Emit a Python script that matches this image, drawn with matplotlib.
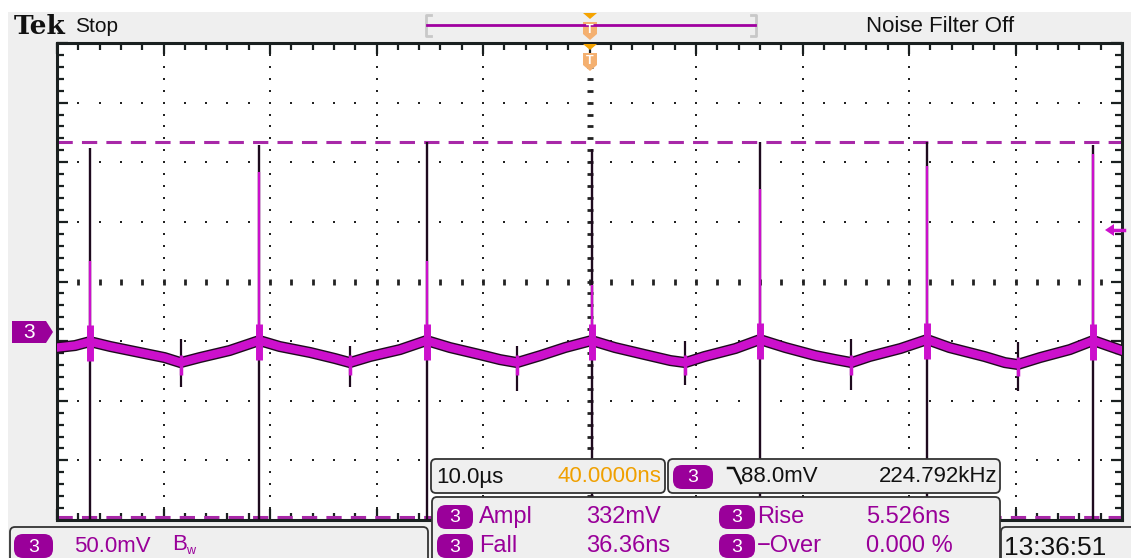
import numpy as np
import matplotlib.pyplot as plt
from matplotlib.patches import FancyBboxPatch, Polygon, Rectangle

plt.rcParams['font.family'] = ['Liberation Sans', 'DejaVu Sans']

# ---- waveform readings (time in us, voltage in mV) ----
base_t = [-50.0, -48.3, -46.9, -45.0, -42.2, -39.9, -38.4, -36.6, -33.8, -31.0,
          -29.1, -26.2, -23.9, -22.5, -20.6, -17.8, -15.3, -13.1, -10.3, -8.4,
          -6.8, -4.6, -2.3, 0.2, 2.4, 5.2, 7.6, 9.0, 10.8, 13.7,
          16.0, 18.4, 21.2, 23.1, 24.6, 26.3, 29.2, 31.7, 33.8, 37.1,
          39.0, 40.2, 42.3, 45.1, 47.3, 48.9, 50.0]
base_mv = [-12.6, -10.9, -7.6, -11.7, -16.8, -21.0, -25.2, -21.0, -15.1, -6.7,
           -11.7, -16.8, -21.8, -25.2, -20.1, -14.3, -6.7, -12.6, -18.5, -22.7,
           -25.2, -19.3, -12.6, -6.7, -12.6, -18.5, -23.5, -25.2, -20.1, -13.4,
           -5.9, -12.6, -19.3, -22.7, -25.2, -20.1, -13.4, -5.9, -12.6, -20.1,
           -25.2, -26.8, -21.0, -14.3, -6.7, -11.7, -15.1]

spike_t = [-46.9, -31.0, -15.3, 0.2, 16.0, 31.7, 47.3]
spike_top = [155, 157, 160, 154, 160, 160, 157]
spike_bottom = [-200, -200, -200, -200, -200, -200, -200]
spike_mag_top = [60, 135, 60, 40, 120, 140, 150]

small_t = [-38.4, -22.5, -6.8, 9.0, 24.6, 40.2]
small_top = [-5, -11, -11, -7, -5, -8]
small_bottom = [-46, -46, -49, -44, -48, -49]

cursor_high = 160
cursor_low = -155

# screen settings
t_div = 10.0      # us/div
v_div = 50.0      # mV/div
v_center = 42.8   # mV at screen centre

MAG = '#cc10cc'
DARK = '#1e0a1e'
BADGE = '#9a009a'
TXT_MAG = '#990099'

W, H = 1131, 558
fig = plt.figure(figsize=(W / 100, H / 100), dpi=100)
fig.patch.set_facecolor('white')

bg = fig.add_axes([0, 0, 1, 1], zorder=0)
bg.set_xlim(0, W); bg.set_ylim(H, 0); bg.axis('off')
bg.add_patch(Rectangle((8, 12), W, H, color='#efefef', lw=0))

# ---- graticule ----
ax = fig.add_axes([57 / W, 1 - 520 / H, (1122 - 57) / W, (520 - 43) / H], zorder=1)
ax.set_facecolor('white')
ax.set_xlim(-5 * t_div, 5 * t_div)
ax.set_ylim(v_center - 4 * v_div, v_center + 4 * v_div)
for s in ax.spines.values():
    s.set_linewidth(2.2)
    s.set_color('#1a2020')
xmaj = np.arange(-5, 6) * t_div
xmin = np.arange(-25, 26) * t_div / 5
ymaj = v_center + np.arange(-4, 5) * v_div
ymin = v_center + np.arange(-20, 21) * v_div / 5
ax.set_xticks(xmaj); ax.set_xticks(xmin, minor=True)
ax.set_yticks(ymaj); ax.set_yticks(ymin, minor=True)
ax.tick_params(which='both', direction='in', top=True, right=True, bottom=True, left=True,
               labelbottom=False, labelleft=False, color='#1a2020')
ax.tick_params(which='major', length=8, width=1.6)
ax.tick_params(which='minor', length=5, width=1.6)

# dotted grid lines
inner_x = xmin[1:-1]
inner_y = ymin[1:-1]
for gx in xmaj[1:-1]:
    if gx == 0:
        continue
    ax.plot(np.full(len(inner_y), gx), inner_y, ls='none', marker='s', ms=1.5, color='#222', mew=0)
for gy in ymaj[1:-1]:
    if gy == v_center:
        continue
    ax.plot(inner_x, np.full(len(inner_x), gy), ls='none', marker='s', ms=1.5, color='#222', mew=0)
# centre axes ticks
ax.plot(inner_x, np.full(len(inner_x), v_center), ls='none', marker='|', ms=5, mew=2, color='#222')
ax.plot(np.zeros(len(inner_y)), inner_y, ls='none', marker='_', ms=5, mew=2, color='#222')

# cursors
ax.axhline(cursor_high, color='#a828a8', lw=2.2, dashes=(5, 3), zorder=2)
ax.axhline(cursor_low, color='#a828a8', lw=2.2, dashes=(5, 3), zorder=2)

# spikes
spike_base = np.interp(spike_t, base_t, base_mv)
ax.vlines(spike_t, spike_bottom, spike_top, color=DARK, lw=1.7, zorder=3)
ax.vlines(spike_t, spike_base, spike_mag_top, color=MAG, lw=1.7, zorder=3)
ax.vlines(spike_t, spike_base - 16, spike_base + 14, color=MAG, lw=5, zorder=5)
small_base = np.interp(small_t, base_t, base_mv)
ax.vlines(small_t, small_bottom, small_top, color=DARK, lw=1.6, zorder=3)
ax.vlines(small_t, small_base - 10, small_base + 6, color=MAG, lw=2.5, zorder=5)

# trace band
ax.plot(base_t, base_mv, color=DARK, lw=8, solid_joinstyle='round', zorder=4)
ax.plot(base_t, base_mv, color=MAG, lw=6, solid_joinstyle='round', zorder=4)

# ---- foreground UI ----
fg = fig.add_axes([0, 0, 1, 1], zorder=3)
fg.set_xlim(0, W); fg.set_ylim(H, 0); fg.axis('off')
fg.patch.set_alpha(0)


def box(x0, y0, x1, y1):
    fg.add_patch(FancyBboxPatch((x0, y0), x1 - x0, y1 - y0, boxstyle='round,pad=0,rounding_size=5',
                                fc='#efefef', ec='#333', lw=1.3))


def badge(x0, y0, x1, y1):
    fg.add_patch(FancyBboxPatch((x0, y0), x1 - x0, y1 - y0, boxstyle='round,pad=0,rounding_size=9',
                                fc=BADGE, ec='none'))
    fg.text((x0 + x1) / 2, (y0 + y1) / 2 + 1, '3', color='white', fontsize=14, ha='center', va='center')


fg.text(14, 27, 'Tek', family='DejaVu Serif', weight='bold', fontsize=19, color='#111', va='center')
fg.text(75, 27, 'Stop', fontsize=15, color='#111', va='center')
fg.text(866, 27, 'Noise Filter Off', fontsize=16, color='#111', va='center')

# trigger position bar
fg.plot([431, 426, 426, 431], [15, 15, 36, 36], color='#c8c8c8', lw=2)
fg.plot([751, 756, 756, 751], [15, 15, 36, 36], color='#c8c8c8', lw=2)
fg.plot([427, 755], [24.5, 24.5], color='#a000a0', lw=2)
for y0 in [13, 44]:
    fg.add_patch(Polygon([(583, y0), (597, y0), (590, y0 + 6)], closed=True, fc='#f5a300', ec='none'))
    fg.add_patch(Polygon([(583, y0 + 9), (597, y0 + 9), (597, y0 + 21), (590, y0 + 27), (583, y0 + 21)],
                         closed=True, fc='#f4b070', ec='none'))
    fg.text(590, y0 + 17, 'T', color='white', fontsize=9, ha='center', va='center', weight='bold')

# channel ground marker and trigger level arrow
fg.add_patch(Polygon([(12, 321), (46, 321), (53, 332), (46, 343), (12, 343)], closed=True, fc=BADGE, ec='none'))
fg.text(29, 333, '3', color='white', fontsize=15, ha='center', va='center')
fg.add_patch(Polygon([(1105, 230), (1114, 224), (1114, 236)], closed=True, fc=MAG, ec='none'))
fg.plot([1112, 1124], [230, 230], color=MAG, lw=2.5)

# readout boxes
box(10, 527, 428, 580)
badge(14, 534, 53, 558)
fg.text(74, 546, '50.0mV', color=TXT_MAG, fontsize=16, va='center')
fg.text(172, 545, 'B', color=TXT_MAG, fontsize=16, va='center')
fg.text(186, 551, 'w', color=TXT_MAG, fontsize=9, va='center')

box(431, 459, 665, 493)
fg.text(436, 477, '10.0µs', color='#111', fontsize=16, va='center')
fg.text(661, 477, '40.0000ns', color='#f0a000', fontsize=16, va='center', ha='right')

box(668, 459, 1000, 493)
badge(673, 465, 713, 489)
fg.plot([728, 734, 741], [468, 468, 483], color='#111', lw=1.8)
fg.text(741, 477, '88.0mV', color='#111', fontsize=16, va='center')
fg.text(997, 477, '224.792kHz', color='#111', fontsize=16, va='center', ha='right')

box(432, 497, 1000, 580)
rows = [
    (517, 'Ampl', '332mV', 'Rise', '5.526ns'),
    (546, 'Fall', '36.36ns', '\u2212Over', '0.000 %'),
]
for y, n1, v1, n2, v2 in rows:
    badge(437, y - 12, 473, y + 12)
    fg.text(479, y, n1, color=TXT_MAG, fontsize=17, va='center')
    fg.text(586, y, v1, color=TXT_MAG, fontsize=17, va='center')
    badge(719, y - 12, 755, y + 12)
    fg.text(757, y, n2, color=TXT_MAG, fontsize=17, va='center')
    fg.text(866, y, v2, color=TXT_MAG, fontsize=17, va='center')

box(1001, 527, 1140, 580)
fg.text(1004, 548, '13:36:51', color='#111', fontsize=19, va='center')

fig.savefig('out.png', dpi=100)
